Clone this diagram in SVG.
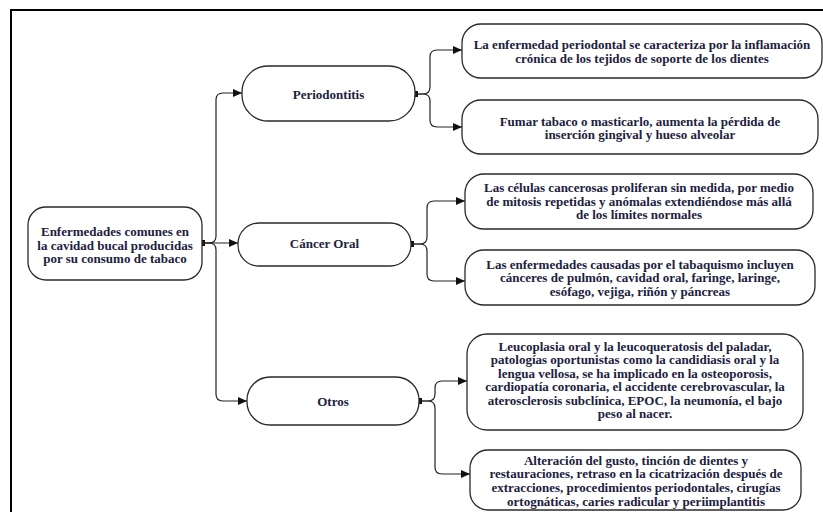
<svg xmlns="http://www.w3.org/2000/svg" width="823" height="512" viewBox="0 0 823 512">
<defs>
<marker id="arr" markerWidth="9" markerHeight="8" refX="9" refY="4" orient="auto" markerUnits="userSpaceOnUse">
<path d="M0,0 L9,4 L0,8 Z" fill="#111"/>
</marker>
<marker id="sq" markerWidth="6" markerHeight="6" refX="3" refY="3" orient="auto" markerUnits="userSpaceOnUse">
<rect x="0" y="0" width="6" height="6" fill="#111"/>
</marker>
<style>
.box{fill:#fff;stroke:#2a2a2a;stroke-width:1.3}
.t{font-family:"Liberation Serif","Times New Roman",serif;font-weight:bold;font-size:13px;fill:#1c2140;text-anchor:middle}
.c{fill:none;stroke:#222;stroke-width:1.2}
</style>
</defs>
<rect width="823" height="512" fill="#fff"/>
<path d="M11,512 V10 H823" fill="none" stroke="#000" stroke-width="2"/>

<g id="connectors">
<path class="c" d="M202,243 H209 Q216,243 216,236 V100 Q216,93 223,93 H242" marker-end="url(#arr)" marker-start="url(#sq)"/>
<path class="c" d="M202,243 H238" marker-end="url(#arr)"/>
<path class="c" d="M202,243 H209 Q216,243 216,250 V394 Q216,401 223,401 H247" marker-end="url(#arr)"/>
<path class="c" d="M415,94 H423 Q430,94 430,87 V57 Q430,50 437,50 H462" marker-end="url(#arr)" marker-start="url(#sq)"/>
<path class="c" d="M415,94 H423 Q430,94 430,101 V120 Q430,127 437,127 H462" marker-end="url(#arr)"/>
<path class="c" d="M411,244 H420 Q427,244 427,237 V208 Q427,201 434,201 H465" marker-end="url(#arr)" marker-start="url(#sq)"/>
<path class="c" d="M411,244 H420 Q427,244 427,251 V274 Q427,281 434,281 H465" marker-end="url(#arr)"/>
<path class="c" d="M419,401 H428 Q435,401 435,394 V388 Q435,381 442,381 H467" marker-end="url(#arr)" marker-start="url(#sq)"/>
<path class="c" d="M419,401 H428 Q435,401 435,408 V467 Q435,474 442,474 H470" marker-end="url(#arr)"/>
</g>

<g id="root">
<rect class="box" x="28" y="207" width="174" height="73" rx="18"/>
<text class="t" x="115" y="236">Enfermedades comunes en</text>
<text class="t" x="115" y="249.5">la cavidad bucal producidas</text>
<text class="t" x="115" y="263">por su consumo de tabaco</text>
</g>

<g id="periodontitis">
<rect class="box" x="242" y="66" width="173" height="55" rx="26"/>
<text class="t" x="328.5" y="98.5">Periodontitis</text>
</g>

<g id="cancer">
<rect class="box" x="238" y="223" width="173" height="43" rx="21"/>
<text class="t" x="324.5" y="248">Cáncer Oral</text>
</g>

<g id="otros">
<rect class="box" x="247" y="377" width="172" height="48" rx="23"/>
<text class="t" x="333" y="406">Otros</text>
</g>

<g id="p1">
<rect class="box" x="462" y="24" width="360" height="54" rx="19"/>
<text class="t" x="642" y="49">La enfermedad periodontal se caracteriza por la inflamación</text>
<text class="t" x="642" y="63">crónica de los tejidos de soporte de los dientes</text>
</g>

<g id="p2">
<rect class="box" x="462" y="100" width="356" height="54" rx="19"/>
<text class="t" x="640" y="125.5">Fumar tabaco o masticarlo, aumenta la pérdida de</text>
<text class="t" x="640" y="139">inserción gingival y hueso alveolar</text>
</g>

<g id="c1">
<rect class="box" x="465" y="174" width="348" height="55" rx="19"/>
<text class="t" x="639" y="192">Las células cancerosas proliferan sin medida, por medio</text>
<text class="t" x="639" y="205.5">de mitosis repetidas y anómalas extendiéndose más allá</text>
<text class="t" x="639" y="219">de los límites normales</text>
</g>

<g id="c2">
<rect class="box" x="465" y="250" width="350" height="55" rx="19"/>
<text class="t" x="640" y="268.5">Las enfermedades causadas por el tabaquismo incluyen</text>
<text class="t" x="640" y="282">cánceres de pulmón, cavidad oral, faringe, laringe,</text>
<text class="t" x="640" y="295.5">esófago, vejiga, riñón y páncreas</text>
</g>

<g id="o1">
<rect class="box" x="467" y="334" width="336" height="96" rx="20"/>
<text class="t" x="635" y="351">Leucoplasia oral y la leucoqueratosis del paladar,</text>
<text class="t" x="635" y="364.4">patologías oportunistas como la candidiasis oral y la</text>
<text class="t" x="635" y="377.8">lengua vellosa, se ha implicado en la osteoporosis,</text>
<text class="t" x="635" y="391.2">cardiopatía coronaria, el accidente cerebrovascular, la</text>
<text class="t" x="635" y="404.6">aterosclerosis subclínica, EPOC, la neumonía, el bajo</text>
<text class="t" x="635" y="418">peso al nacer.</text>
</g>

<g id="o2">
<rect class="box" x="470" y="450" width="331" height="60" rx="18"/>
<text class="t" x="636" y="464.5">Alteración del gusto, tinción de dientes y</text>
<text class="t" x="636" y="478">restauraciones, retraso en la cicatrización después de</text>
<text class="t" x="636" y="492">extracciones, procedimientos periodontales, cirugías</text>
<text class="t" x="636" y="506">ortognáticas, caries radicular y periimplantitis</text>
</g>
</svg>
